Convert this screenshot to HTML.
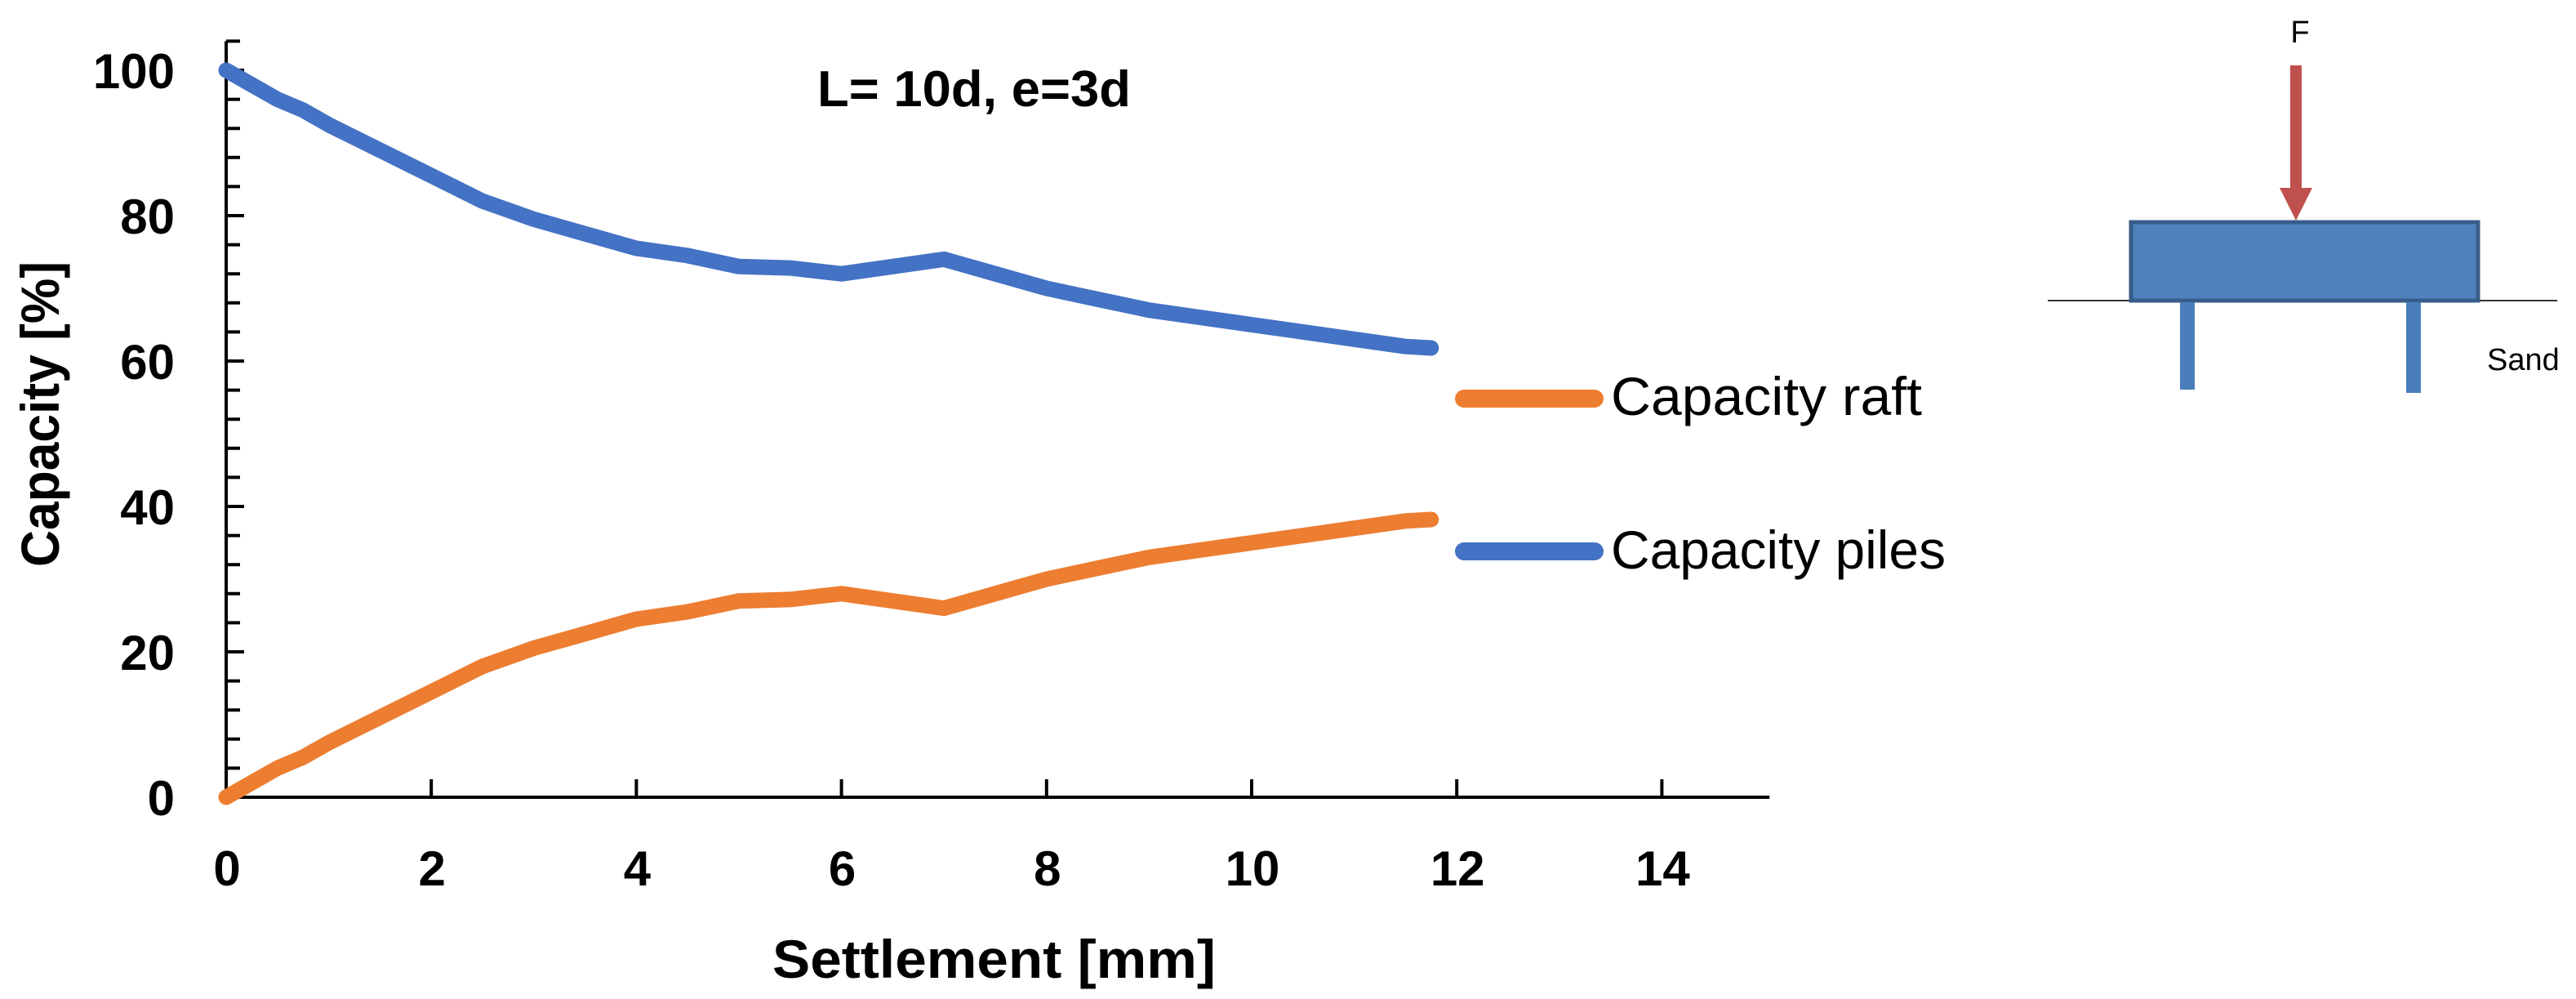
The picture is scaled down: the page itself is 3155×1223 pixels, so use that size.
<!DOCTYPE html>
<html><head><meta charset="utf-8"><style>
html,body{margin:0;padding:0;background:#fff;}
svg{display:block;font-family:"Liberation Sans",sans-serif;}
</style></head><body>
<svg id="chart" width="3155" height="1223" viewBox="0 0 3155 1223" xmlns="http://www.w3.org/2000/svg">
<g id="axes"></g>
<g id="series"></g>
<text x="1001" y="130" font-size="62" font-weight="bold" textLength="384" lengthAdjust="spacingAndGlyphs">L= 10d, e=3d</text>
<text x="946" y="1197" font-size="66" font-weight="bold" textLength="543" lengthAdjust="spacingAndGlyphs">Settlement  [mm]</text>
<text transform="translate(72,507) rotate(-90)" text-anchor="middle" font-size="66" font-weight="bold" textLength="374" lengthAdjust="spacingAndGlyphs">Capacity [%]</text>
<g>
  <g>
    <line x1="1793" y1="488" x2="1953" y2="488" stroke="#ED7D31" stroke-width="22" stroke-linecap="round"/>
    <text x="1973" y="508" font-size="66" textLength="381" lengthAdjust="spacingAndGlyphs">Capacity raft</text>
  </g>
  <g>
    <line x1="1793" y1="675" x2="1953" y2="675" stroke="#4472C4" stroke-width="22" stroke-linecap="round"/>
    <text x="1973" y="696" font-size="66" textLength="410" lengthAdjust="spacingAndGlyphs">Capacity piles</text>
  </g>
</g>
<g>
  <text x="2817" y="52" font-size="38" text-anchor="middle">F</text>
  <rect x="2805" y="80" width="14" height="152" fill="#C0504D"/>
  <polygon points="2792,230 2832,230 2812,270" fill="#C0504D"/>
  <line x1="2508" y1="368" x2="3132" y2="368" stroke="#333" stroke-width="2"/>
  <rect x="2610" y="272" width="425" height="96" fill="#4F81BD" stroke="#385D8A" stroke-width="5"/>
  <rect x="2670" y="370" width="18" height="107" fill="#4A7EBB"/>
  <rect x="2947" y="370" width="18" height="111" fill="#4A7EBB"/>
  <text x="3046" y="453" font-size="38">Sand</text>
</g>
</svg>
<script>
const settlement = [0,0.25,0.5,0.75,1,1.5,2,2.5,3,3.5,4,4.5,5,5.5,6,6.5,7,7.5,8,8.5,9,9.5,10,10.5,11,11.5,11.75];
const capacityPiles = [100,98,96,94.5,92.5,89,85.5,82,79.5,77.5,75.5,74.5,73,72.8,72,73,74,72,70,68.5,67,66,65,64,63,62,61.8];
const capacityRaft = [0,2,4,5.5,7.5,11,14.5,18,20.5,22.5,24.5,25.5,27,27.2,28,27,26,28,30,31.5,33,34,35,36,37,38,38.2];
const xTicks = [0,2,4,6,8,10,12,14];
const yTicks = [0,20,40,60,80,100];

const NS = "http://www.w3.org/2000/svg";
const X0 = 277, XS = 125.6, Y0 = 976, YS = 8.9;
function sx(v){ return X0 + v*XS; }
function sy(v){ return Y0 - v*YS; }
function mk(tag, attrs, parent){
  const e = document.createElementNS(NS, tag);
  for (const k in attrs) e.setAttribute(k, attrs[k]);
  parent.appendChild(e); return e;
}
const axes = document.getElementById('axes');
const series = document.getElementById('series');

const ya = mk('line', {x1:X0, y1:sy(104), x2:X0, y2:Y0+2, stroke:'#000','stroke-width':4}, axes);


const xa = mk('line', {x1:X0-2, y1:Y0, x2:sx(15.05), y2:Y0, stroke:'#000','stroke-width':4}, axes);



for (let v = 4; v <= 104; v += 4) {
  const major = v % 20 === 0;
  const t = mk('line', {x1:X0, y1:sy(v), x2:X0 + (major ? 22 : 17), y2:sy(v), stroke:'#000','stroke-width':4}, axes);
  
  
}
yTicks.forEach(v => {
  const t = mk('text', {x:214, y:sy(v)+22, 'text-anchor':'end', 'font-size':60, 'font-weight':'bold'}, axes);
  t.textContent = v;
  
  
});
xTicks.forEach(v => {
  if (v > 0) {
    const t = mk('line', {x1:sx(v), y1:Y0, x2:sx(v), y2:Y0-22, stroke:'#000','stroke-width':4}, axes);
    
    
  }
  const l = mk('text', {x:sx(v)+1, y:1084, 'text-anchor':'middle', 'font-size':60, 'font-weight':'bold'}, axes);
  l.textContent = v;
  
  
});

function path(vals){
  return settlement.map((x,i) => (i ? 'L' : 'M') + sx(x).toFixed(1) + ' ' + sy(vals[i]).toFixed(1)).join(' ');
}
const pr = mk('path', {d:path(capacityRaft), fill:'none', stroke:'#ED7D31', 'stroke-width':19, 'stroke-linecap':'round', 'stroke-linejoin':'round'}, series);


const pp = mk('path', {d:path(capacityPiles), fill:'none', stroke:'#4472C4', 'stroke-width':19, 'stroke-linecap':'round', 'stroke-linejoin':'round'}, series);


</script>
</body></html>
